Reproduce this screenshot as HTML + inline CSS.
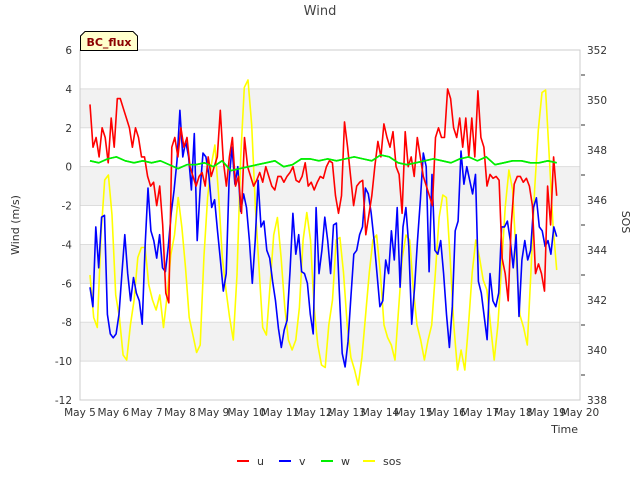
<!DOCTYPE html>
<html><head><meta charset="utf-8"><style>
body{margin:0;background:#fff;}
svg{display:block;font-family:"DejaVu Sans","Liberation Sans",sans-serif;}
</style></head><body>
<svg id="chart" width="640" height="480">
<text x="320" y="15" text-anchor="middle" font-size="13" fill="#444">Wind</text>
<g id="bands"></g>
<g id="grid"></g>
<rect x="80" y="50" width="500" height="350" fill="none" stroke="#ccc"/>
<g id="series"></g>
<g id="axes" font-size="10.5" fill="#333"></g>
<text transform="translate(19,225) rotate(-90)" text-anchor="middle" font-size="11" fill="#333">Wind (m/s)</text>
<text transform="translate(622,222) rotate(90)" text-anchor="middle" font-size="11" fill="#333">SOS</text>
<text x="578" y="433" text-anchor="end" font-size="11" fill="#333">Time</text>
<g>
<path d="M80.5,50.5 L80.5,36 L85,31.5 L133,31.5 L137.5,36 L137.5,50.5 Z" fill="#ffffcc" stroke="#000"/>
<text x="109" y="46" text-anchor="middle" font-size="11" font-weight="bold" fill="#8b0000">BC_flux</text>
</g>
<g id="legend" font-size="11" fill="#333"></g>
</svg>
<script>
const xTickLabels=["May 5","May 6","May 7","May 8","May 9","May 10","May 11","May 12","May 13","May 14","May 15","May 16","May 17","May 18","May 19","May 20"];
const yTicks=[-12,-10,-8,-6,-4,-2,0,2,4,6];
const y2Ticks=[338,340,342,344,346,348,350,352];
const seriesStart=5.3, seriesEnd=19.3;
const uVals=[3.2,1,1.5,0.5,2,1.5,0.2,2.5,1,3.5,3.5,3,2.5,2,1,2,1.5,0.5,0.5,-0.5,-1,-0.8,-2,-1,-3,-6.5,-7,
1,1.5,0.5,2,1,1.5,0,-0.5,-1,-0.5,-0.3,-1,0.5,-0.5,0,0.5,2.9,0.3,-1,0.5,1.5,-1,-0.5,-2.4,1.5,0,-0.5,-1,-0.7,-0.3,-0.8,0,-0.5,-1,-1.2,-0.5,-0.5,-0.8,-0.5,-0.3,0,-0.7,-0.8,-0.5,0.2,-1,-0.8,-1.2,-0.8,-0.5,-0.6,0,0.3,
0.2,-1.5,-2.4,-1.5,2.3,1,-0.5,-2,-1,-0.8,-0.7,-3.5,-2.5,-1.5,0,1.3,0.5,2.2,1.5,1,1.8,0,-0.4,-2.4,1.8,0,0.5,-0.5,1.5,0.5,-0.5,-1,-1.5,-2,1.5,2,1.5,1.5,4,3.5,2,1.5,2.5,1,2.5,0.5,2.5,0.5,3.9,1.5,1,-1,-0.4,-0.6,-0.5,-0.7,-4.7,-5.5,-6.9,-3,-0.9,-0.5,-0.5,-0.8,-0.6,-1,-2,-5.5,-5,-5.5,-6.4,-1,-3,0.5,-1.5];
const vVals=[-6.2,-7.2,-3.1,-5.2,-2.6,-2.5,-7.6,-8.6,-8.8,-8.6,-7.6,-5.5,-3.5,-5.5,-6.9,-5.7,-6.5,-6.9,-8.1,-4.1,-1.1,-3.3,-3.8,-4.7,-3.5,-5.2,-5.4,-4.1,-2.4,-1.2,0.3,2.9,0.5,1.3,0.5,-1.2,1.7,-3.8,-1.2,0.7,0.5,-0.4,-2.1,-1.7,-3.3,-4.8,-6.4,-5.5,-0.7,1.0,-0.9,0.0,-2.3,-1.4,-2.1,-3.8,-6.0,-3.8,-0.7,-3.1,-2.8,-4.3,-4.7,-5.9,-6.9,-8.3,-9.3,-8.4,-7.9,-5.4,-2.4,-4.5,-3.5,-5.4,-5.5,-6.0,-7.6,-8.6,-2.1,-5.5,-4.3,-2.6,
-3.8,-5.5,-3.0,-2.9,-6.4,-9.6,-10.3,-9.0,-6.7,-4.5,-4.3,-3.5,-3.1,-1.1,-1.4,-2.4,-3.8,-5.5,-7.2,-6.9,-4.8,-5.5,-3.3,-4.8,-2.1,-6.2,-3.1,-2.1,-4.1,-8.1,-6.2,-3.8,-1.7,0.7,0.0,-5.4,-0.4,-4.3,-4.5,-3.8,-5.5,-7.6,-9.3,-7.2,-3.3,-2.8,0.8,-0.9,0.0,-0.7,-1.4,-0.4,-5.9,-6.5,-7.7,-8.9,-5.5,-6.9,-7.2,-6.5,-3.1,-3.1,-2.8,-3.8,-5.2,-3.5,-7.7,-4.8,-3.8,-4.8,-4.3,-2.1,-1.6,-3.1,-3.3,-4.1,-3.8,-4.5,-3.1,-3.6];
const wVals=[0.3,0.2,0.4,0.5,0.3,0.2,0.3,0.2,0.3,0.1,-0.1,0.1,0.1,0.2,0.0,0.3,-0.2,-0.1,0.0,0.1,0.2,0.3,0.0,0.1,0.4,0.4,0.3,0.4,0.3,0.4,0.5,0.4,0.3,0.6,0.5,0.2,0.1,0.2,0.3,0.4,0.3,0.2,0.4,0.5,0.3,0.5,0.1,0.2,0.3,0.3,0.2,0.2,0.3,0.2];
const sosVals=[343.0,341.3,340.9,344.6,346.8,347.0,345.4,342.2,341.3,339.8,339.6,341.0,342.0,343.7,344.1,344.1,342.6,342.0,341.6,342.2,340.9,342.2,343.8,344.6,346.1,344.9,343.3,341.3,340.6,339.9,340.2,343.7,346.1,347.4,348.2,346.2,343.7,342.4,341.3,340.4,343.0,347.7,350.5,350.8,349.0,345.7,343.3,340.9,340.6,342.6,344.6,345.3,343.7,341.7,340.4,340.0,340.4,341.7,344.4,345.5,344.4,341.7,340.2,339.4,
339.3,341.0,342.0,344.4,344.5,343.1,341.0,339.7,339.2,338.6,339.7,341.4,343.1,344.4,344.6,343.1,341.0,340.5,340.2,339.6,341.7,343.7,344.6,344.4,342.4,341.0,340.4,339.6,340.4,341.0,343.1,345.3,346.2,346.1,343.7,341.0,339.2,340.0,339.2,341.0,343.1,344.4,343.7,342.8,342.4,341.0,339.6,341.0,343.3,345.7,347.2,346.4,343.7,341.4,340.9,340.2,343.1,346.4,348.8,350.3,350.4,347.7,345.0,343.2];

const NS="http://www.w3.org/2000/svg";
const X0=80,X1=580,Y0=400,Y1=50;
const xScale=d=>X0+(d-5)/15*(X1-X0);
const yScale=v=>Y0-(v+12)/18*(Y0-Y1);
const y2Scale=v=>Y0-(v-338)/14*(Y0-Y1);
function mk(tag,attrs,parent){const e=document.createElementNS(NS,tag);for(const k in attrs)e.setAttribute(k,attrs[k]);parent.appendChild(e);return e;}
const bands=document.getElementById('bands'),grid=document.getElementById('grid'),axes=document.getElementById('axes'),ser=document.getElementById('series'),leg=document.getElementById('legend');
[[2,4],[-2,0],[-6,-4],[-10,-8]].forEach(b=>{
 const r=mk('rect',{x:X0,y:yScale(b[1]),width:X1-X0,height:yScale(b[0])-yScale(b[1]),fill:'#f2f2f2'},bands);
 
 
});
yTicks.forEach(t=>{
 const y=yScale(t);
 const l=mk('line',{x1:X0,x2:X1,y1:y,y2:y,stroke:'#ddd'},grid);
 
 
 const tx=mk('text',{x:72,y:y+4,'text-anchor':'end'},axes);tx.textContent=t;
 
 
});
y2Ticks.forEach(t=>{
 const y=y2Scale(t);
 const tx=mk('text',{x:587,y:y+4},axes);tx.textContent=t;
 
 
});
for(let t=339;t<=351;t+=2){const y=y2Scale(t);const l=mk('line',{x1:X1+1,x2:X1+5,y1:y,y2:y,stroke:'#333'},axes);
 
 }
xTickLabels.forEach((s,i)=>{
 const tx=mk('text',{x:xScale(5+i),y:416,'text-anchor':'middle'},axes);tx.textContent=s;
 
 
});
function line(vals,scale,color,name){
 const n=vals.length;
 const pts=vals.map((v,i)=>xScale(seriesStart+(seriesEnd-seriesStart)*i/(n-1)).toFixed(1)+','+scale(v).toFixed(1)).join(' ');
 const p=mk('polyline',{points:pts,fill:'none',stroke:color,'stroke-width':1.6,'stroke-linejoin':'round'},ser);
 
 
}
line(sosVals,y2Scale,'#ffff00','sos-line');
line(wVals,yScale,'#00ee00','w-line');
line(vVals,yScale,'#0000ff','v-line');
line(uVals,yScale,'#ff0000','u-line');
line(wVals,yScale,'#00ee00','w-line-top');
[['u','#ff0000',237],['v','#0000ff',279],['w','#00ee00',321],['sos','#ffff00',363]].forEach(e=>{
 const g=mk('g',{},leg);
 
 
 mk('line',{x1:e[2],x2:e[2]+12,y1:461,y2:461,stroke:e[1],'stroke-width':2},g);
 const t=mk('text',{x:e[2]+20,y:465},g);t.textContent=e[0];
});
</script>
</body></html>
